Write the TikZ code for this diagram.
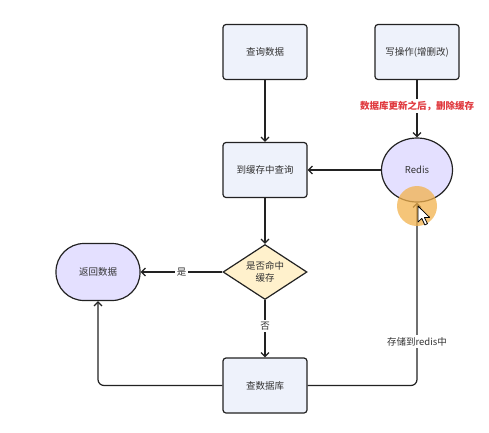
\documentclass[tikz,border=0pt]{standalone}
\usepackage{fontspec}
\setmainfont{Noto Sans CJK SC}
\usetikzlibrary{shapes.geometric,arrows.meta}
\definecolor{boxfill}{HTML}{EEF2FB}
\definecolor{lav}{HTML}{E4E0FF}
\definecolor{dia}{HTML}{FFF1CC}
\definecolor{edge}{HTML}{222222}
\definecolor{redtxt}{HTML}{E0393E}
\definecolor{hl}{HTML}{F2B24D}
\begin{document}
\begin{tikzpicture}[x=1pt,y=-1pt,
  font=\fontsize{9.5}{12}\selectfont,
  box/.style={draw=edge,line width=1.2pt,fill=boxfill,rounded corners=3pt,minimum width=84pt,minimum height=55pt,inner sep=0pt,text=black!80},
  flow/.style={line width=1.2pt,draw=edge,-{Straight Barb[length=4pt,width=8pt,line width=1.2pt]}},
  lbl/.style={fill=white,inner sep=2pt,text=black!80}]
\useasboundingbox (0,0) rectangle (489,432);
\fill[white] (0,0) rectangle (489,432);
\node[box] (q) at (265,52) {查询数据};
\node[box] (w) at (417,52) {写操作(增删改)};
\node[box] (c) at (265,170) {到缓存中查询};
\node[draw=edge,line width=1.2pt,fill=lav,ellipse,minimum width=71pt,minimum height=64pt,inner sep=0pt,text=black!80] (r) at (417,170) {Redis};
\node[draw=edge,line width=1.2pt,fill=dia,diamond,aspect=1.53,minimum width=84pt,minimum height=55pt,inner sep=0pt,align=center,text=black!80] (d) at (265,272) {是否命中\\缓存};
\node[draw=edge,line width=1.2pt,fill=lav,rounded corners=28pt,minimum width=84pt,minimum height=57pt,inner sep=0pt,text=black!80] (ret) at (98,272) {返回数据};
\node[box] (db) at (265,385.5) {查数据库};
\draw[flow] (q) -- (c);
\draw[flow] (w) -- node[lbl,text=redtxt,font=\fontsize{9.5}{12}\selectfont\bfseries,pos=0.45] {数据库更新之后，删除缓存} (r);
\draw[flow] (r) -- (c);
\draw[flow] (c) -- (d);
\draw[flow] (d) -- node[lbl,pos=0.5] {是} (ret);
\draw[flow] (d) -- node[lbl,pos=0.45] {否} (db);
\draw[flow,rounded corners=6pt] (db.west) -| (ret.south);
\draw[flow,rounded corners=6pt] (db.east) -| node[lbl,pos=0.62] {存储到redis中} (r.south);
\fill[hl,fill opacity=0.75] (417,206) circle (20pt);
\draw[black,line width=0.8pt,fill=white,line join=round] (418,206) -- ++(0,16) -- ++(3.8,-3.6) -- ++(3,6.5) -- ++(2.6,-1.2) -- ++(-3,-6.3) -- ++(5.2,0) -- cycle;
\end{tikzpicture}
\end{document}
